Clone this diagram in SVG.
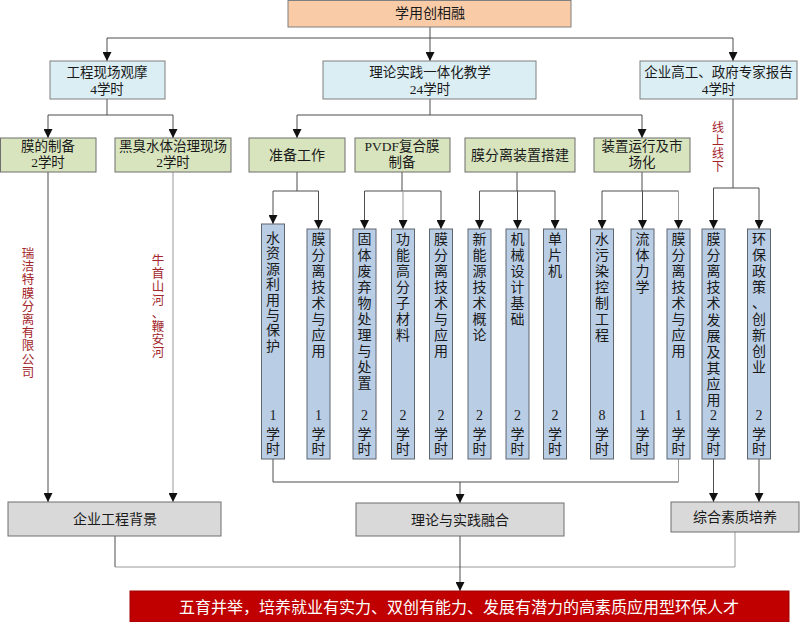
<svg xmlns="http://www.w3.org/2000/svg" width="800" height="622" viewBox="0 0 800 622">
<style>
text{font-family:"Liberation Serif","Noto Sans CJK SC",serif;fill:#1a1a1a;text-anchor:middle}
.t14{font-size:14px}
.t13{font-size:13.5px}
.col text{font-size:14px}
.red{fill:#a3262c;font-size:12.5px}
.top{fill:#f9cba7;stroke:#7f7f7f}
.l1{fill:#dbeef4;stroke:#7f7f7f}
.l2{fill:#d7e4bd;stroke:#6f6f6f}
.cb{fill:#b9cde5;stroke:#5f6670}
.bt{fill:#d9d9d9;stroke:#6f6f6f}
.ln{fill:none;stroke:#4d4d4d;stroke-width:1}
.lg{fill:none;stroke:#999;stroke-width:1}
</style>
<defs>
<marker id="ar" markerUnits="userSpaceOnUse" markerWidth="9" markerHeight="9" refX="8" refY="4" orient="auto" viewBox="0 0 8 8">
<path d="M0,0 L8,4 L0,8 z" fill="#111"/>
</marker>
</defs>
<rect width="800" height="622" fill="#fff"/>

<g id="connectors">
<path class="ln" d="M430,27 V38 M107,38 H733"/>
<path class="ln" marker-end="url(#ar)" d="M107,38 V61"/>
<path class="ln" marker-end="url(#ar)" d="M430,38 V61"/>
<path class="ln" marker-end="url(#ar)" d="M733,38 V61"/>
<path class="ln" d="M107,99 V115 M48,115 H173"/>
<path class="ln" marker-end="url(#ar)" d="M48,115 V138"/>
<path class="ln" marker-end="url(#ar)" d="M173,115 V138"/>
<path class="ln" d="M430,99 V115 M297,115 H642"/>
<path class="ln" marker-end="url(#ar)" d="M297,115 V138"/>
<path class="ln" marker-end="url(#ar)" d="M642,115 V138"/>
<path class="ln" d="M733,99 V188 M713.5,188 H759"/>
<path class="ln" marker-end="url(#ar)" d="M713.5,188 V229"/>
<path class="ln" marker-end="url(#ar)" d="M759,188 V229"/>
<path class="ln" d="M297,172 V191 M273,191 H318.5"/>
<path class="ln" marker-end="url(#ar)" d="M273,191 V224"/>
<path class="ln" marker-end="url(#ar)" d="M318.5,191 V229"/>
<path class="ln" d="M402,172 V191 M364.5,191 H441"/>
<path class="ln" marker-end="url(#ar)" d="M364.5,191 V229"/>
<path class="lg" marker-end="url(#ar)" d="M403,191 V229"/>
<path class="ln" marker-end="url(#ar)" d="M441,191 V229"/>
<path class="ln" d="M517,172 V191 M479.5,191 H555"/>
<path class="ln" marker-end="url(#ar)" d="M479.5,191 V229"/>
<path class="ln" marker-end="url(#ar)" d="M517.5,191 V229"/>
<path class="ln" marker-end="url(#ar)" d="M555,191 V229"/>
<path class="ln" d="M642,172 V191 M602,191 H678.5"/>
<path class="ln" marker-end="url(#ar)" d="M602,191 V229"/>
<path class="ln" marker-end="url(#ar)" d="M642.5,191 V229"/>
<path class="lg" marker-end="url(#ar)" d="M678.5,191 V229"/>
<path class="ln" marker-end="url(#ar)" d="M48,172 V502"/>
<path class="lg" marker-end="url(#ar)" d="M173,172 V502"/>
<path class="ln" d="M273,459 V482 H678.5"/>
<path class="lg" d="M678.5,459 V482"/>
<path class="ln" marker-end="url(#ar)" d="M460,482 V503"/>
<path class="ln" marker-end="url(#ar)" d="M713.5,459 V502"/>
<path class="ln" marker-end="url(#ar)" d="M759,459 V502"/>
<path class="ln" d="M115,536 V567"/>
<path class="lg" d="M115,567 H735 V532"/>
<path class="ln" marker-end="url(#ar)" d="M460,536 V591"/>
<path class="ln" d="M490.5,363 V384" stroke="#222"/>
</g>

<g id="n-top"><rect class="top" x="288" y="0.5" width="283" height="26.5"/><text class="t14" x="430" y="18">学用创相融</text></g>

<g id="n-gcxc"><rect class="l1" x="50" y="61" width="115" height="38"/><text class="t13" x="107" y="77">工程现场观摩</text><text class="t13" x="107" y="93.5">4学时</text></g>
<g id="n-llsj"><rect class="l1" x="323" y="61" width="213" height="38"/><text class="t13" x="430" y="77">理论实践一体化教学</text><text class="t13" x="430" y="93.5">24学时</text></g>
<g id="n-qygg"><rect class="l1" x="640" y="61" width="157" height="38"/><text class="t13" x="718.5" y="77">企业高工、政府专家报告</text><text class="t13" x="718.5" y="93.5">4学时</text></g>

<g id="n-mdzb"><rect class="l2" x="0.5" y="138" width="95.5" height="34"/><text class="t13" x="48" y="151">膜的制备</text><text class="t13" x="48" y="167">2学时</text></g>
<g id="n-hcst"><rect class="l2" x="115" y="138" width="116" height="34"/><text class="t13" x="173" y="151">黑臭水体治理现场</text><text class="t13" x="173" y="167">2学时</text></g>
<g id="n-zbgz"><rect class="l2" x="249" y="138" width="96" height="34"/><text class="t14" x="297" y="160">准备工作</text></g>
<g id="n-pvdf"><rect class="l2" x="355" y="138" width="95" height="34"/><text class="t13" x="402" y="151">PVDF复合膜</text><text class="t13" x="402" y="167">制备</text></g>
<g id="n-mflzz"><rect class="l2" x="465" y="138" width="110" height="34"/><text class="t14" x="520" y="160">膜分离装置搭建</text></g>
<g id="n-zzyx"><rect class="l2" x="594" y="138" width="96" height="34"/><text class="t13" x="642" y="151">装置运行及市</text><text class="t13" x="642" y="167">场化</text></g>

<g class="col">
<g id="c1"><rect class="cb" x="261.5" y="224" width="23" height="235"/><text x="273" y="243"><tspan x="273">水</tspan><tspan x="273" dy="15.4">资</tspan><tspan x="273" dy="15.4">源</tspan><tspan x="273" dy="15.4">利</tspan><tspan x="273" dy="15.4">用</tspan><tspan x="273" dy="15.4">与</tspan><tspan x="273" dy="15.4">保</tspan><tspan x="273" dy="15.4">护</tspan></text><text x="273" y="420">1</text><text x="273" y="438.5">学</text><text x="273" y="453.5">时</text></g>
<g id="c2"><rect class="cb" x="307" y="229" width="23" height="230"/><text x="318.5" y="244"><tspan x="318.5">膜</tspan><tspan x="318.5" dy="16">分</tspan><tspan x="318.5" dy="16">离</tspan><tspan x="318.5" dy="16">技</tspan><tspan x="318.5" dy="16">术</tspan><tspan x="318.5" dy="16">与</tspan><tspan x="318.5" dy="16">应</tspan><tspan x="318.5" dy="16">用</tspan></text><text x="318.5" y="420">1</text><text x="318.5" y="438.5">学</text><text x="318.5" y="453.5">时</text></g>
<g id="c3"><rect class="cb" x="353" y="229" width="23" height="230"/><text x="364.5" y="244"><tspan x="364.5">固</tspan><tspan x="364.5" dy="16">体</tspan><tspan x="364.5" dy="16">废</tspan><tspan x="364.5" dy="16">弃</tspan><tspan x="364.5" dy="16">物</tspan><tspan x="364.5" dy="16">处</tspan><tspan x="364.5" dy="16">理</tspan><tspan x="364.5" dy="16">与</tspan><tspan x="364.5" dy="16">处</tspan><tspan x="364.5" dy="16">置</tspan></text><text x="364.5" y="420">2</text><text x="364.5" y="438.5">学</text><text x="364.5" y="453.5">时</text></g>
<g id="c4"><rect class="cb" x="391.5" y="229" width="23" height="230"/><text x="403" y="244"><tspan x="403">功</tspan><tspan x="403" dy="16">能</tspan><tspan x="403" dy="16">高</tspan><tspan x="403" dy="16">分</tspan><tspan x="403" dy="16">子</tspan><tspan x="403" dy="16">材</tspan><tspan x="403" dy="16">料</tspan></text><text x="403" y="420">2</text><text x="403" y="438.5">学</text><text x="403" y="453.5">时</text></g>
<g id="c5"><rect class="cb" x="429.5" y="229" width="23" height="230"/><text x="441" y="244"><tspan x="441">膜</tspan><tspan x="441" dy="16">分</tspan><tspan x="441" dy="16">离</tspan><tspan x="441" dy="16">技</tspan><tspan x="441" dy="16">术</tspan><tspan x="441" dy="16">与</tspan><tspan x="441" dy="16">应</tspan><tspan x="441" dy="16">用</tspan></text><text x="441" y="420">2</text><text x="441" y="438.5">学</text><text x="441" y="453.5">时</text></g>
<g id="c6"><rect class="cb" x="468" y="229" width="23" height="230"/><text x="479.5" y="244"><tspan x="479.5">新</tspan><tspan x="479.5" dy="16">能</tspan><tspan x="479.5" dy="16">源</tspan><tspan x="479.5" dy="16">技</tspan><tspan x="479.5" dy="16">术</tspan><tspan x="479.5" dy="16">概</tspan><tspan x="479.5" dy="16">论</tspan></text><text x="479.5" y="420">2</text><text x="479.5" y="438.5">学</text><text x="479.5" y="453.5">时</text></g>
<g id="c7"><rect class="cb" x="506" y="229" width="23" height="230"/><text x="517.5" y="244"><tspan x="517.5">机</tspan><tspan x="517.5" dy="16">械</tspan><tspan x="517.5" dy="16">设</tspan><tspan x="517.5" dy="16">计</tspan><tspan x="517.5" dy="16">基</tspan><tspan x="517.5" dy="16">础</tspan></text><text x="517.5" y="420">2</text><text x="517.5" y="438.5">学</text><text x="517.5" y="453.5">时</text></g>
<g id="c8"><rect class="cb" x="543.5" y="229" width="23" height="230"/><text x="555" y="244"><tspan x="555">单</tspan><tspan x="555" dy="16">片</tspan><tspan x="555" dy="16">机</tspan></text><text x="555" y="420">2</text><text x="555" y="438.5">学</text><text x="555" y="453.5">时</text></g>
<g id="c9"><rect class="cb" x="590.5" y="229" width="23" height="230"/><text x="602" y="244"><tspan x="602">水</tspan><tspan x="602" dy="16">污</tspan><tspan x="602" dy="16">染</tspan><tspan x="602" dy="16">控</tspan><tspan x="602" dy="16">制</tspan><tspan x="602" dy="16">工</tspan><tspan x="602" dy="16">程</tspan></text><text x="602" y="420">8</text><text x="602" y="438.5">学</text><text x="602" y="453.5">时</text></g>
<g id="c10"><rect class="cb" x="631" y="229" width="23" height="230"/><text x="642.5" y="244"><tspan x="642.5">流</tspan><tspan x="642.5" dy="16">体</tspan><tspan x="642.5" dy="16">力</tspan><tspan x="642.5" dy="16">学</tspan></text><text x="642.5" y="420">1</text><text x="642.5" y="438.5">学</text><text x="642.5" y="453.5">时</text></g>
<g id="c11"><rect class="cb" x="667" y="229" width="23" height="230"/><text x="678.5" y="244"><tspan x="678.5">膜</tspan><tspan x="678.5" dy="16">分</tspan><tspan x="678.5" dy="16">离</tspan><tspan x="678.5" dy="16">技</tspan><tspan x="678.5" dy="16">术</tspan><tspan x="678.5" dy="16">与</tspan><tspan x="678.5" dy="16">应</tspan><tspan x="678.5" dy="16">用</tspan></text><text x="678.5" y="420">1</text><text x="678.5" y="438.5">学</text><text x="678.5" y="453.5">时</text></g>
<g id="c12"><rect class="cb" x="702" y="229" width="23" height="230"/><text x="713.5" y="244"><tspan x="713.5">膜</tspan><tspan x="713.5" dy="16.1">分</tspan><tspan x="713.5" dy="16.1">离</tspan><tspan x="713.5" dy="16.1">技</tspan><tspan x="713.5" dy="16.1">术</tspan><tspan x="713.5" dy="16.1">发</tspan><tspan x="713.5" dy="16.1">展</tspan><tspan x="713.5" dy="16.1">及</tspan><tspan x="713.5" dy="16.1">其</tspan><tspan x="713.5" dy="16.1">应</tspan><tspan x="713.5" dy="16.1">用</tspan></text><text x="713.5" y="420">2</text><text x="713.5" y="438.5">学</text><text x="713.5" y="453.5">时</text></g>
<g id="c13"><rect class="cb" x="747.5" y="229" width="23" height="230"/><text x="759" y="244"><tspan x="759">环</tspan><tspan x="759" dy="16">保</tspan><tspan x="759" dy="16">政</tspan><tspan x="759" dy="16">策</tspan><tspan x="759" dy="16">、</tspan><tspan x="759" dy="16">创</tspan><tspan x="759" dy="16">新</tspan><tspan x="759" dy="16">创</tspan><tspan x="759" dy="16">业</tspan></text><text x="759" y="420">2</text><text x="759" y="438.5">学</text><text x="759" y="453.5">时</text></g>
</g>

<g id="labels">
<text class="red" x="28" y="258"><tspan x="28">瑞</tspan><tspan x="28" dy="13.2">洁</tspan><tspan x="28" dy="13.2">特</tspan><tspan x="28" dy="13.2">膜</tspan><tspan x="28" dy="13.2">分</tspan><tspan x="28" dy="13.2">离</tspan><tspan x="28" dy="13.2">有</tspan><tspan x="28" dy="13.2">限</tspan><tspan x="28" dy="13.2">公</tspan><tspan x="28" dy="13.2">司</tspan></text>
<text class="red" x="158" y="265"><tspan x="158">牛</tspan><tspan x="158" dy="13.2">首</tspan><tspan x="158" dy="13.2">山</tspan><tspan x="158" dy="13.2">河</tspan><tspan x="158" dy="13.2">、</tspan><tspan x="158" dy="13.2">鞭</tspan><tspan x="158" dy="13.2">安</tspan><tspan x="158" dy="13.2">河</tspan></text>
<text class="red" x="718" y="132" style="font-size:12px"><tspan x="718">线</tspan><tspan x="718" dy="13">上</tspan><tspan x="718" dy="13">线</tspan><tspan x="718" dy="13">下</tspan></text>
</g>

<g id="n-qybj"><rect class="bt" x="8" y="502" width="213" height="34"/><text class="t14" x="115" y="524">企业工程背景</text></g>
<g id="n-llrh"><rect class="bt" x="356" y="503" width="208" height="33"/><text class="t14" x="460" y="525">理论与实践融合</text></g>
<g id="n-zhsz"><rect class="bt" x="671" y="502" width="128" height="30"/><text class="t14" x="735" y="522">综合素质培养</text></g>
<g id="n-goal"><rect x="130" y="591" width="659" height="31" fill="#c00000" stroke="#a00000"/><text x="459" y="613" style="font-size:16px;fill:#fff">五育并举，培养就业有实力、双创有能力、发展有潜力的高素质应用型环保人才</text></g>
</svg>
